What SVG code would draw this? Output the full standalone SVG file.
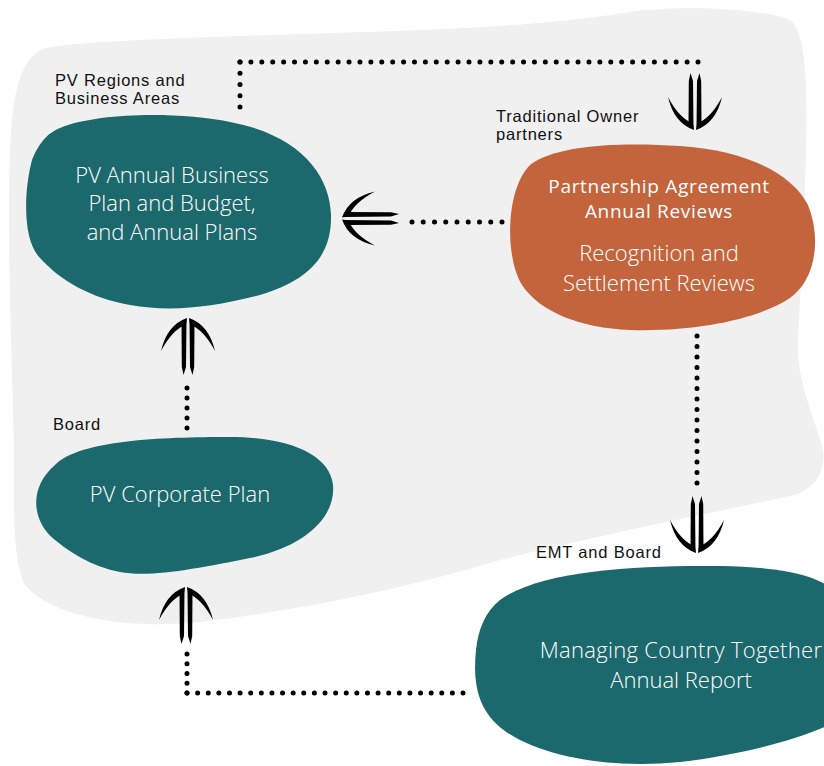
<svg xmlns="http://www.w3.org/2000/svg" xmlns:xlink="http://www.w3.org/1999/xlink" width="824" height="766" viewBox="0 0 824 766">
<style>
.teal{fill:#1b686d}
.orange{fill:#c3643c}
.nt{fill:#ffffff;font-family:"Open Sans","Noto Sans",sans-serif;font-size:22px;font-weight:300;text-anchor:middle}
.nb{fill:#ffffff;font-family:"Open Sans","Noto Sans",sans-serif;font-size:19px;font-weight:500;letter-spacing:0.7px;text-anchor:middle}
.lb{fill:#111111;font-family:"Liberation Sans",Arial,sans-serif;font-size:16.5px;letter-spacing:0.8px}
.dots{fill:none;stroke:#000;stroke-width:5;stroke-linecap:round}
.ar{fill:#000}
</style>
<defs>
<g id="arr">
<path class="ar" d="M -1.5,1 L -6.5,4 L -6.2,49 L -4.5,57 L -2,49 Z"/>
<path class="ar" d="M 1.5,1 L 6.5,4 L 6.2,49 L 4.5,57 L 2,49 Z"/>
<path class="ar" d="M -1,0 Q -21,7 -27,33 Q -16,12 -2,6.5 Z"/>
<path class="ar" d="M 1,0 Q 21,7 27,33 Q 16,12 2,6.5 Z"/>
</g>
</defs>
<g id="background">
<path fill="#f0f0f0" d="M 45,48 C 100,38 300,35 420,30 C 520,26 580,20 630,12 C 680,5 760,8 790,20 C 805,30 808,80 806,150 C 804,230 800,300 798,340 C 796,380 815,420 822,445 C 828,470 815,488 795,495 C 700,515 600,535 500,560 C 400,590 300,610 200,622 C 120,630 50,615 25,585 C 12,560 14,500 14,450 C 12,350 5,200 12,120 C 16,80 25,55 45,48 Z"/>
</g>
<g id="connectors">
<path class="dots" stroke-dasharray="0 11.25" d="M 240,107 V 61.9"/>
<path class="dots" stroke-dasharray="0 10.905" d="M 240,62 H 698.1"/>
<path class="dots" stroke-dasharray="0 11.25" d="M 502,222 H 411.9"/>
<path class="dots" stroke-dasharray="0 10.5" d="M 697,336 V 483.1"/>
<path class="dots" stroke-dasharray="0 10" d="M 187,428 V 387.9"/>
<path class="dots" stroke-dasharray="0 10.615" d="M 463,693 H 186.9"/>
<path class="dots" stroke-dasharray="0 9.75" d="M 187,693 V 653.9"/>
<use xlink:href="#arr" href="#arr" transform="translate(695,130) rotate(180)"/>
<use xlink:href="#arr" href="#arr" transform="translate(342,218.5) rotate(-90)"/>
<use xlink:href="#arr" href="#arr" transform="translate(188,318)"/>
<use xlink:href="#arr" href="#arr" transform="translate(697,553) rotate(180)"/>
<use xlink:href="#arr" href="#arr" transform="translate(186,587)"/>
</g>
<g id="node-business-plan">
<path class="teal" d="M 60,128 C 100,112 180,112 230,122 C 300,135 330,175 331,215 C 332,255 310,280 260,295 C 210,308 170,312 130,305 C 90,298 60,280 40,258 C 22,240 24,190 32,160 C 40,140 50,132 60,128 Z"/>
<text class="nt" x="172" y="182.5">PV Annual Business</text>
<text class="nt" x="172" y="211">Plan and Budget,</text>
<text class="nt" x="172" y="240">and Annual Plans</text>
<text class="lb" x="55" y="86">PV Regions and</text>
<text class="lb" x="55" y="104">Business Areas</text>
</g>
<g id="node-partnership">
<path class="orange" d="M 530,165 C 555,145 620,142 680,146 C 740,150 790,170 808,205 C 822,240 815,280 790,298 C 760,318 700,332 630,330 C 580,328 540,312 522,285 C 505,258 505,190 530,165 Z"/>
<text class="nb" x="659" y="192.5">Partnership Agreement</text>
<text class="nb" x="659" y="217.5">Annual Reviews</text>
<text class="nt" x="659" y="261">Recognition and</text>
<text class="nt" x="659" y="291">Settlement Reviews</text>
<text class="lb" x="496" y="121.5">Traditional Owner</text>
<text class="lb" x="496" y="140">partners</text>
</g>
<g id="node-corporate-plan">
<path class="teal" d="M 55,465 C 80,440 160,437 230,437 C 290,437 330,455 333,485 C 336,520 300,548 250,558 C 200,568 150,578 120,572 C 90,566 70,552 55,540 C 32,522 28,488 55,465 Z"/>
<text class="nt" x="180" y="502">PV Corporate Plan</text>
<text class="lb" x="53" y="430">Board</text>
</g>
<g id="node-annual-report">
<path class="teal" d="M 500,600 C 540,570 640,565 720,566 C 780,567 830,575 840,600 L 840,720 C 800,740 740,755 680,762 C 620,768 560,760 520,740 C 480,720 472,690 476,650 C 478,630 485,612 500,600 Z"/>
<text class="nt" x="681" y="658" letter-spacing="0.3">Managing Country Together</text>
<text class="nt" x="681" y="688">Annual Report</text>
<text class="lb" x="536" y="558">EMT and Board</text>
</g>
</svg>
